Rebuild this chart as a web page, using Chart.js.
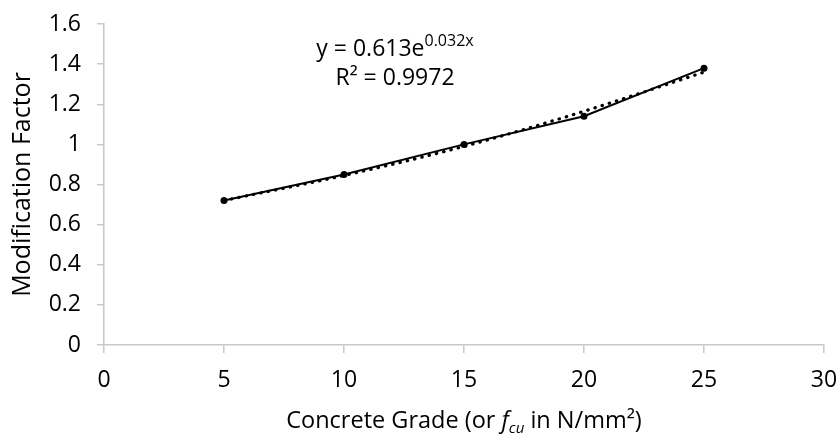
<!DOCTYPE html>
<html>
<head>
<meta charset="utf-8">
<script src="https://cdn.jsdelivr.net/npm/chart.js@4/dist/chart.umd.min.js"></script>
<style>
  html, body { margin: 0; padding: 0; background: #fff; }
  #wrap { width: 839px; height: 435px; position: relative; }
</style>
</head>
<body>
<div id="wrap"><canvas id="chart"></canvas></div>
<script>
// ── Data ───────────────────────────────────────────────────────────────────
const grades      = [5, 10, 15, 20, 25];
const factors     = [0.72, 0.85, 1.00, 1.14, 1.38];
const trendValues = [0.72, 0.845, 0.99, 1.165, 1.36];
const xTicks      = [0, 5, 10, 15, 20, 25, 30];
const yTicks      = [0, 0.2, 0.4, 0.6, 0.8, 1, 1.2, 1.4, 1.6];
const eqMain      = "y = 0.613e";
const eqExp       = "0.032x";
const eqR2        = "R² = 0.9972";

const FONT   = "'Open Sans', sans-serif";
const AXIS_C = "#c8c8c8";

// ── Text drawn on top: x title with italic/subscript, trend equation ───────
const textPlugin = {
  id: "richText",
  afterDraw(chart) {
    const c = chart.ctx;
    const area = chart.chartArea;
    c.save();
    c.fillStyle = "#000";
    c.textBaseline = "alphabetic";

    // x-axis title: Concrete Grade (or f_cu in N/mm²)
    const parts = [
      { t: "Concrete Grade (or ", f: `23.5px ${FONT}`, dy: 0 },
      { t: "f", f: `italic 23.5px ${FONT}`, dy: 0 },
      { t: "cu", f: `italic 15px ${FONT}`, dy: 5 },
      { t: " in N/mm²)", f: `23.5px ${FONT}`, dy: 0 }
    ];
    let w = 0;
    parts.forEach(p => { c.font = p.f; w += c.measureText(p.t).width; });
    let x = (area.left + area.right) / 2 - w / 2;
    const yBase = 428;
    parts.forEach(p => {
      c.font = p.f;
      c.fillText(p.t, x, yBase + p.dy);
      x += c.measureText(p.t).width;
    });

    // trendline equation
    c.font = `23px ${FONT}`;
    const w1 = c.measureText(eqMain).width;
    c.font = `16px ${FONT}`;
    const w2 = c.measureText(eqExp).width;
    const cx = 395;
    const x1 = cx - (w1 + w2) / 2;
    c.font = `23px ${FONT}`;
    c.fillText(eqMain, x1, 56);
    c.font = `16px ${FONT}`;
    c.fillText(eqExp, x1 + w1, 46);
    c.font = `23px ${FONT}`;
    c.textAlign = "center";
    c.fillText(eqR2, cx, 85);
    c.restore();
  }
};

const ctx = document.getElementById("chart").getContext("2d");
new Chart(ctx, {
  type: "scatter",
  data: {
    datasets: [
      {
        label: "Modification Factor",
        data: grades.map((g, i) => ({ x: g, y: factors[i] })),
        showLine: true,
        borderColor: "#000",
        backgroundColor: "#000",
        borderWidth: 2,
        pointRadius: 3.5,
        pointBorderWidth: 0,
        tension: 0,
        order: 0
      },
      {
        label: "Expon. trend",
        data: grades.map((g, i) => ({ x: g, y: trendValues[i] })),
        showLine: true,
        borderColor: "#000",
        borderWidth: 3.2,
        borderDash: [0.5, 7],
        borderCapStyle: "round",
        pointRadius: 0,
        cubicInterpolationMode: "monotone",
        order: 1
      }
    ]
  },
  options: {
    responsive: true,
    maintainAspectRatio: false,
    animation: false,
    layout: { padding: { left: 0, right: 15, top: 24, bottom: 0 } },
    plugins: {
      legend: { display: false },
      tooltip: { enabled: false }
    },
    scales: {
      x: {
        type: "linear",
        min: xTicks[0],
        max: xTicks[xTicks.length - 1],
        afterBuildTicks: s => { s.ticks = xTicks.map(v => ({ value: v })); },
        afterFit: s => { s.height = 90; s.paddingLeft = 0; s.paddingRight = 0; },
        grid: { drawOnChartArea: false, drawTicks: true, tickLength: 8, color: AXIS_C, lineWidth: 1.5 },
        border: { color: AXIS_C, width: 1.5 },
        ticks: {
          color: "#000",
          padding: 14,
          font: { family: FONT, size: 23 },
          callback: v => String(v)
        }
      },
      y: {
        type: "linear",
        min: yTicks[0],
        max: yTicks[yTicks.length - 1],
        afterBuildTicks: s => { s.ticks = yTicks.map(v => ({ value: v })); },
        afterFit: s => { s.width = 104; s.paddingTop = 0; s.paddingBottom = 0; },
        grid: { drawOnChartArea: false, drawTicks: true, tickLength: 7, color: AXIS_C, lineWidth: 1.5 },
        border: { color: AXIS_C, width: 1.5 },
        ticks: {
          color: "#000",
          padding: 16,
          font: { family: FONT, size: 23 },
          callback: v => String(Number(v.toFixed(1)))
        },
        title: {
          display: true,
          text: "Modification Factor",
          color: "#000",
          font: { family: FONT, size: 25 },
          padding: { top: 8, bottom: 0 }
        }
      }
    }
  },
  plugins: [textPlugin]
});
</script>
</body>
</html>
